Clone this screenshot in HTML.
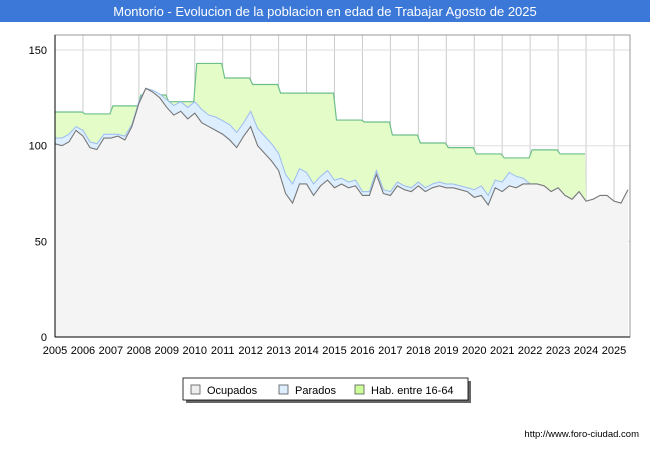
<!DOCTYPE html>
<html><head><meta charset="utf-8"><style>
body{margin:0;width:650px;height:450px;background:#fff;font-family:"Liberation Sans",sans-serif;overflow:hidden}
</style></head><body>
<svg width="650" height="450" xmlns="http://www.w3.org/2000/svg">
<rect x="0" y="0" width="650" height="450" fill="#fff"/>
<rect x="0" y="0" width="650" height="22" fill="#3c78d8"/>
<text x="325" y="16" text-anchor="middle" fill="#fff" font-size="13">Montorio - Evolucion de la poblacion en edad de Trabajar Agosto de 2025</text>
<g id="grid"></g>
<g id="areas"></g>
<rect x="55" y="35" width="575" height="302" fill="none" stroke="#999" stroke-width="1"/>
<line x1="55" y1="35" x2="55" y2="337" stroke="#000"/>
<line x1="55" y1="337" x2="630" y2="337" stroke="#000"/>
<g id="ticks"></g>
<g>
<rect x="186" y="381" width="285" height="22" fill="#666"/>
<rect x="183" y="378" width="285" height="22" fill="#fff" stroke="#000" stroke-width="0.8"/>
<rect x="191" y="385" width="9" height="9" fill="#eee" stroke="#555" stroke-width="0.8"/>
<text x="207" y="394" font-size="11">Ocupados</text>
<rect x="279" y="385" width="9" height="9" fill="#ddeeff" stroke="#555" stroke-width="0.8"/>
<text x="295" y="394" font-size="11">Parados</text>
<rect x="355" y="385" width="9" height="9" fill="#ccff99" stroke="#555" stroke-width="0.8"/>
<text x="371" y="394" font-size="11">Hab. entre 16-64</text>
</g>
<text x="639" y="437" text-anchor="end" font-size="9.5">http://www.foro-ciudad.com</text>
</svg>
<script>
const years=[2005,2006,2007,2008,2009,2010,2011,2012,2013,2014,2015,2016,2017,2018,2019,2020,2021,2022,2023,2024,2025];
const yTicks=[0,50,100,150];
const habYears=[2005,2006,2007,2008,2009,2010,2011,2012,2013,2014,2015,2016,2017,2018,2019,2020,2021,2022,2023];
const habValues=[117.6,116.6,120.8,126.5,123,143,135.4,132,127.5,127.5,113.4,112.4,105.6,101.4,99,95.7,93.6,97.8,95.7];
const ocupados=[101,100,102,108,105,99,98,104,104,105,103,110,122,130,128,125,120,116,118,114,117,112,110,108,106,103,99,105,110,100,96,92,87,75,70,80,80,74,79,82,78,80,78,79,74,74,85,75,74,79,77,76,79,76,78,79,78,78,77,76,73,74,69,78,76,79,78,80,80,80,79,76,78,74,72,76,71,72,74,74,71,70,77];
const parados=[3,4,4,2,3,3,3,2,2,1,2,1,1,0,1,2,4,5,5,6,6,7,6,7,7,8,8,7,8,9,9,9,9,10,10,8,6,6,5,5,4,3,3,3,2,2,2,2,2,2,2,2,2,2,2,2,2,2,2,2,4,5,5,4,5,7,6,3,0,0,0,0,0,0,0,0,0,0,0,0,0,0,0];
const t0=2005, dt=0.25;
const X=v=>55+(v-2005)*27.95, Y=v=>337-v*1.913;
const ns="http://www.w3.org/2000/svg";
function mk(tag,attrs,parent){const e=document.createElementNS(ns,tag);for(const k in attrs)e.setAttribute(k,attrs[k]);parent.appendChild(e);return e;}
const grid=document.getElementById('grid'),ticks=document.getElementById('ticks'),areas=document.getElementById('areas');
years.forEach(y=>{const l=mk('line',{x1:X(y),x2:X(y),y1:35,y2:337,stroke:'#ccc'},grid);


const t=mk('text',{x:X(y),y:354,'text-anchor':'middle','font-size':11},ticks);t.textContent=y;

});
yTicks.forEach(v=>{const l=mk('line',{x1:55,x2:630,y1:Y(v),y2:Y(v),stroke:'#ddd'},grid);


const t=mk('text',{x:47,y:Y(v)+4,'text-anchor':'end','font-size':11},ticks);t.textContent=v;

});
const xs=ocupados.map((_,i)=>X(t0+i*dt));
const topVals=ocupados.map((v,i)=>v+(parados[i]||0));
let hp=[];habYears.forEach((y,i)=>{hp.push([X(y)+(i?2:0),Y(habValues[i])]);hp.push([X(y+1)-1,Y(habValues[i])]);});
const habEndX=X(2024);
let lowerHab=[];for(let i=topVals.length-1;i>=0;i--){if(xs[i]<=habEndX)lowerHab.push([xs[i],Y(topVals[i])]);}
const ha=mk('path',{d:'M'+hp.concat(lowerHab).map(p=>p.join(',')).join('L')+'Z',fill:'#e4fcc8'},areas);


const hl=mk('path',{d:'M'+hp.map(p=>p.join(',')).join('L'),fill:'none',stroke:'#6dbf8a','stroke-width':1.2},areas);


const topPts=xs.map((x,i)=>[x,Y(topVals[i])]);const ocPts=xs.map((x,i)=>[x,Y(ocupados[i])]);
const pa=mk('path',{d:'M'+topPts.concat(ocPts.slice().reverse()).map(p=>p.join(',')).join('L')+'Z',fill:'#ddeeff'},areas);


const pl=mk('path',{d:'M'+topPts.map(p=>p.join(',')).join('L'),fill:'none',stroke:'#9bbcf0','stroke-width':1},areas);


const oa=mk('path',{d:'M'+ocPts.map(p=>p.join(',')).join('L')+`L${xs[xs.length-1]},337L55,337Z`,fill:'#f4f4f4'},areas);


const ol=mk('path',{d:'M'+ocPts.map(p=>p.join(',')).join('L'),fill:'none',stroke:'#777','stroke-width':1.1},areas);


</script>
</body></html>
